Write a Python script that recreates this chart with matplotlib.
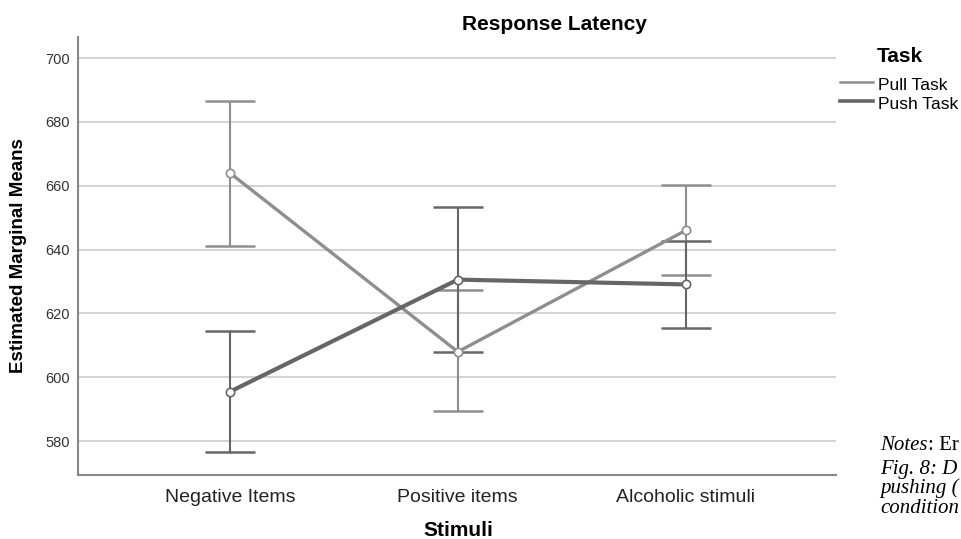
import matplotlib
matplotlib.use("Agg")
import matplotlib.pyplot as plt
from matplotlib.lines import Line2D
from matplotlib.text import Annotation
import numpy as np

categories = ["Negative Items", "Positive items", "Alcoholic stimuli"]
pull_mean = [664.0, 608.0, 646.0]
pull_low = [641.0, 589.4, 631.9]
pull_high = [686.7, 627.5, 660.3]
push_mean = [595.5, 630.6, 629.1]
push_low = [576.5, 608.0, 615.3]
push_high = [614.5, 653.5, 642.8]
yticks = [580, 600, 620, 640, 660, 680, 700]

plt.rcParams['font.family'] = ['Liberation Sans', 'DejaVu Sans']

W, H = 961, 539
fig = plt.figure(figsize=(W/100, H/100), dpi=100)
ax = fig.add_axes([78/W, 1-475/H, (836-78)/W, (475-37)/H])

x = np.arange(len(categories))
pull_c = "#8e8e8e"
push_c = "#666666"

for mean, lo, hi, c, lw in [(pull_mean, pull_low, pull_high, pull_c, 2.4),
                            (push_mean, push_low, push_high, push_c, 3.0)]:
    mean = np.array(mean); lo = np.array(lo); hi = np.array(hi)
    ax.errorbar(x, mean, yerr=[mean-lo, hi-mean], fmt='none', ecolor=c,
                elinewidth=1.5, capsize=18, capthick=1.8, zorder=3)
    ax.plot(x, mean, color=c, lw=lw, zorder=4)
    ax.plot(x, mean, 'o', mfc='white', mec=c, ms=6, mew=1.2, zorder=5)

ax.set_xlim(-0.667, 2.66)
ax.set_ylim(569.4, 706.6)
ax.set_yticks(yticks)
ax.set_yticklabels([str(v) for v in yticks], fontsize=10.5, color="#333333")
ax.set_xticks(x)
ax.set_xticklabels(categories, fontsize=14, color="#222222")
ax.tick_params(axis='y', length=0, pad=6)
ax.tick_params(axis='x', length=0, pad=10)
ax.yaxis.grid(True, color="#d4d4d4", lw=1.5)
ax.set_axisbelow(True)
for s in ["top", "right"]:
    ax.spines[s].set_visible(False)
for s in ["left", "bottom"]:
    ax.spines[s].set_color("#888888")
    ax.spines[s].set_linewidth(1.5)

# axis labels and title
fig.text(458/W, 1-536/H, "Stimuli", ha='center', va='baseline',
         fontsize=15, fontweight='bold')
fig.text(19/W, 1-256/H, "Estimated Marginal Means", ha='center', va='center',
         rotation=90, fontsize=13.5, fontweight='bold')
fig.text(554/W, 1-30/H, "Response Latency", ha='center', va='baseline',
         fontsize=15, fontweight='bold')

# legend
fig.text(877/W, 1-62/H, "Task", ha='left', va='baseline', fontsize=15, fontweight='bold')
fig.add_artist(Line2D([840/W, 873/W], [1-82/H, 1-82/H], color=pull_c, lw=1.8))
fig.add_artist(Line2D([840/W, 873/W], [1-101/H, 1-101/H], color=push_c, lw=2.6))
fig.text(878/W, 1-90/H, "Pull Task", ha='left', va='baseline', fontsize=12.5)
fig.text(878/W, 1-109/H, "Push Task", ha='left', va='baseline', fontsize=12.5)

# partially visible notes text at the right edge
serif = ['Liberation Serif', 'DejaVu Serif']
t_notes = fig.text(880/W, 1-455/H, "Notes", ha='left', va='bottom',
                   fontsize=15, family=serif, style='italic')
fig.add_artist(Annotation(": Er", xy=(1, 0), xycoords=t_notes,
                          ha='left', va='bottom', fontsize=15, family=serif))
fig.text(880/W, 1-474/H, "Fig. 8: D", ha='left', va='baseline',
         fontsize=15, family=serif, style='italic')
fig.text(880/W, 1-493/H, "pushing (", ha='left', va='baseline',
         fontsize=15, family=serif, style='italic')
fig.text(880/W, 1-513/H, "condition", ha='left', va='baseline',
         fontsize=15, family=serif, style='italic')

fig.savefig("out.png", dpi=100)
